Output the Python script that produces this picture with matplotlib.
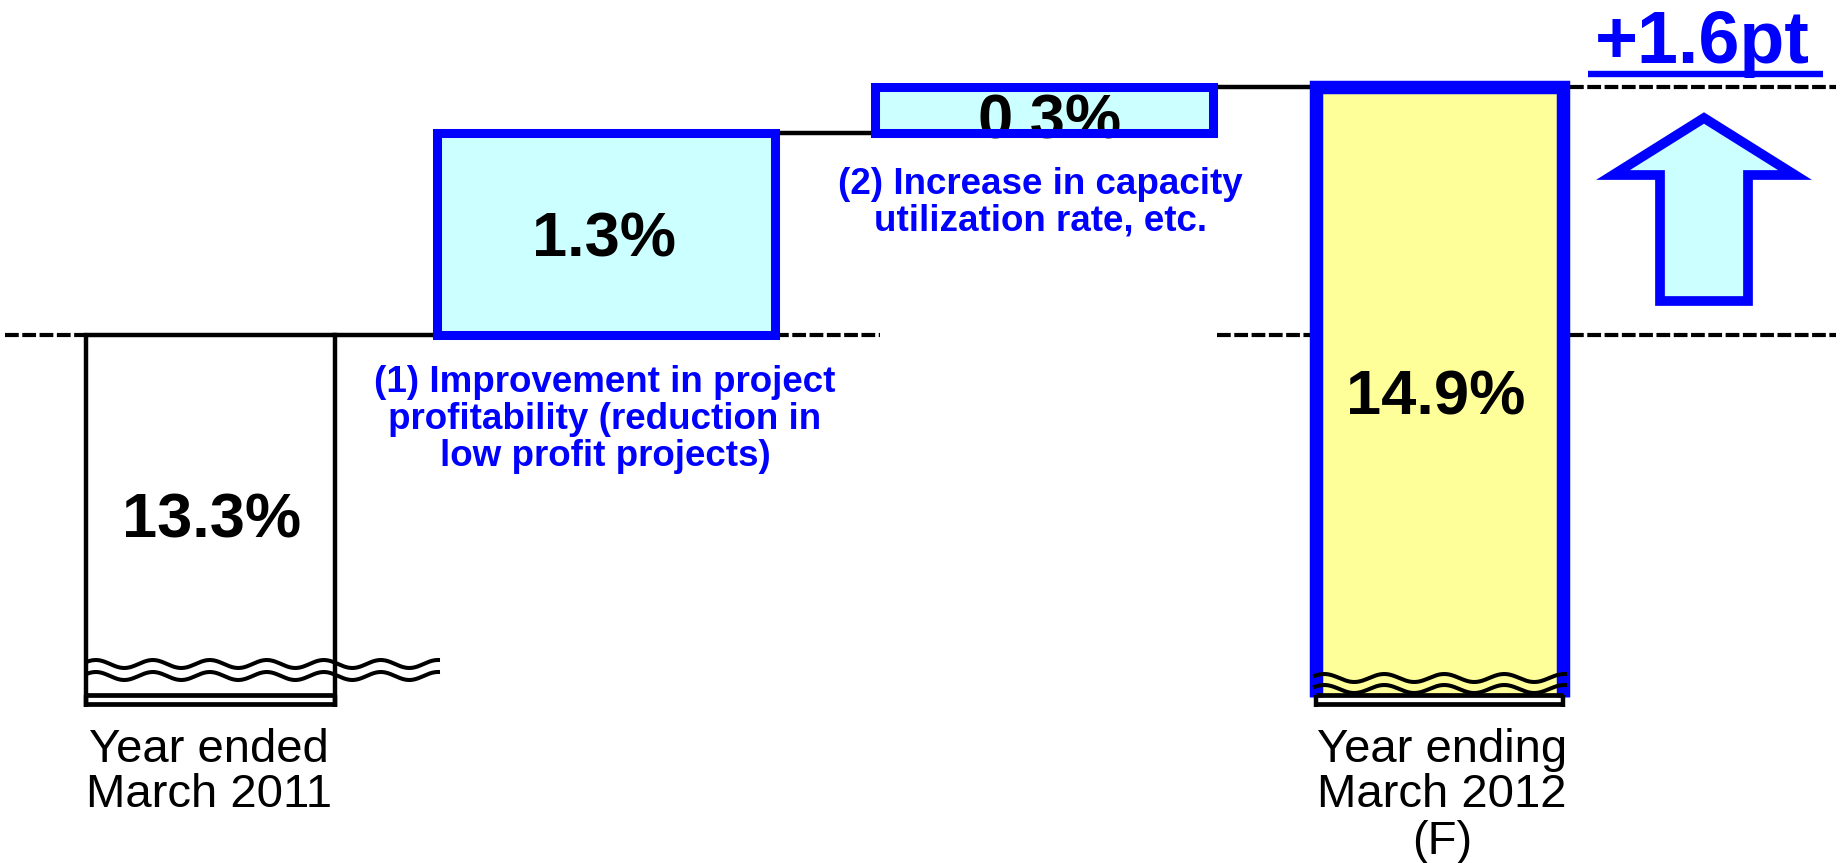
import matplotlib
matplotlib.use("Agg")
import matplotlib.pyplot as plt
import numpy as np
from matplotlib.patches import Rectangle, Polygon

# ---------------- data ----------------
categories = ["Year ended\nMarch 2011", "(1)", "(2)", "Year ending\nMarch 2012\n(F)"]
bar_kinds = ["total", "delta", "delta", "total"]
bar_values = [13.3, 1.3, 0.3, 14.9]
bar_labels = ["13.3%", "1.3%", "0.3%", "14.9%"]
change_notes = [
    "(1) Improvement in project\nprofitability (reduction in\nlow profit projects)",
    "(2) Increase in capacity\nutilization rate, etc.",
]
total_change_label = "+1.6pt"

# ---------------- style / layout ----------------
W, H = 1843, 863
BLUE = "#0000FF"
CYAN = "#CCFFFF"
YELLOW = "#FFFF99"
FONT = "Liberation Sans"
Y_TOP, Y_BOT = 15.461, 9.894      # value range mapped onto the figure height

def v(px):            # pixel row -> value units
    return Y_TOP - px * (Y_TOP - Y_BOT) / H

def pxh(dpx):         # pixel height -> value units
    return dpx * (Y_TOP - Y_BOT) / H

fig = plt.figure(figsize=(W / 100, H / 100), dpi=100)
ax = fig.add_axes([0, 0, 1, 1])
ax.set_xlim(0, W)
ax.set_ylim(Y_BOT, Y_TOP)
ax.axis("off")

bar_x = [(86, 335), (437, 775), (875, 1213), (1315.5, 1563)]
BREAK_TOP = v(697)
DASH = (0, (3.3, 0.85))
LW_LINE = 3.2

# compute waterfall extents
bottoms, tops = [], []
running = None
for kind, val in zip(bar_kinds, bar_values):
    if kind == "total":
        bottoms.append(BREAK_TOP)
        tops.append(val)
        running = val
    else:
        bottoms.append(running)
        tops.append(running + val)
        running += val

# ---------------- bars ----------------
edge_lw = [3.2, 6.5, 6.5, 9.7]
for i, ((x0, x1), b, t) in enumerate(zip(bar_x, bottoms, tops)):
    if i == 0:
        ax.add_patch(Rectangle((x0, b), x1 - x0, t - b, facecolor="white",
                               edgecolor="none", zorder=2))
        ax.plot([x0, x0, x1, x1], [v(707), t, t, v(707)], color="black",
                lw=edge_lw[i], solid_joinstyle="miter", solid_capstyle="butt", zorder=4)
    elif i == 3:
        ax.add_patch(Rectangle((x0, b), x1 - x0, t - b, facecolor=YELLOW,
                               edgecolor="none", zorder=2))
        ax.plot([x0, x0, x1, x1], [b, t, t, b], color=BLUE,
                lw=edge_lw[i], solid_joinstyle="miter", solid_capstyle="butt", zorder=4)
    else:
        ax.add_patch(Rectangle((x0, b), x1 - x0, t - b, facecolor=CYAN,
                               edgecolor=BLUE, lw=edge_lw[i], joinstyle="miter", zorder=4,
                               fill=False))
        ax.add_patch(Rectangle((x0, b), x1 - x0, t - b, facecolor=CYAN,
                               edgecolor="none", zorder=2))

# break symbols at the bottom of total bars
waves = {0: (87, 438, 664, 676, 57), 3: (1315, 1565, 678, 689, 60)}
for i in (0, 3):
    x0, x1 = bar_x[i]
    ax.add_patch(Rectangle((x0, v(707)), x1 - x0, v(695) - v(707), facecolor="white",
                           edgecolor="none", zorder=3))
    for yy in (695, 704.5):
        ax.plot([x0, x1], [v(yy), v(yy)], color="black", lw=3.4,
                solid_capstyle="butt", zorder=5)
    for xx in (x0, x1):
        ax.plot([xx, xx], [v(695), v(707)], color="black", lw=3.2,
                solid_capstyle="butt", zorder=5)
    wx0, wx1, y1, y2, per = waves[i]
    xs = np.linspace(wx0, wx1, 400)
    for yc in (y1, y2):
        ax.plot(xs, v(yc) + pxh(4.0) * np.sin(2 * np.pi * (xs - wx0) / per + 0.6),
                color="black", lw=2.9, zorder=6)

# connectors (solid) and reference lines (dashed)
ax.plot([bar_x[0][1], bar_x[1][0]], [tops[0], tops[0]], color="black", lw=LW_LINE, zorder=3)
ax.plot([bar_x[1][1], bar_x[2][0]], [tops[1], tops[1]], color="black", lw=LW_LINE, zorder=3)
ax.plot([bar_x[2][1], bar_x[3][0]], [tops[2], tops[2]], color="black", lw=LW_LINE, zorder=3)

base = bar_values[0]
final = bar_values[3]
for xa, xb, yv in [(5, bar_x[0][0], base), (bar_x[1][1], 880, base),
                   (1217, bar_x[3][0], base), (bar_x[3][1] + 7, 1836, base),
                   (bar_x[3][1] + 7, 1836, final)]:
    ax.plot([xa, xb], [yv, yv], color="black", lw=3.0, linestyle=DASH,
            dash_capstyle="butt", zorder=1)

# ---------------- value labels ----------------
label_pos = [(212, 538), (604, 257), (1050, 139), (1436, 415)]
for i, (lab, (lx, ly)) in enumerate(zip(bar_labels, label_pos)):
    t = ax.text(lx, v(ly), lab, ha="center", va="baseline", fontsize=45.5,
                fontweight="bold", family=FONT, color="black", zorder=3)
    if i == 2:
        x0, x1 = bar_x[2]
        clip = Rectangle((x0, bottoms[2]), x1 - x0, tops[2] - bottoms[2],
                         transform=ax.transData)
        t.set_clip_path(clip)

# change notes
note_pos = [(605, [392, 429, 466]), (1040, [194, 231])]
for note, (nx, ys) in zip(change_notes, note_pos):
    for line, yy in zip(note.split("\n"), ys):
        ax.text(nx, v(yy), line, ha="center", va="baseline", fontsize=26.5,
                fontweight="bold", family=FONT, color=BLUE)

# category labels
cat_pos = {0: (209, [762, 807]), 3: (1442, [762, 807, 854])}
for i, (cx, ys) in cat_pos.items():
    for line, yy in zip(categories[i].split("\n"), ys):
        ax.text(cx, v(yy), line, ha="center", va="baseline", fontsize=34,
                family=FONT, color="black")

# total change label with underline
ax.text(1702, v(63), total_change_label, ha="center", va="baseline", fontsize=53,
        fontweight="bold", family=FONT, color=BLUE)
ax.plot([1588, 1823], [v(74), v(74)], color=BLUE, lw=4.6, solid_capstyle="butt")

# up arrow
arrow_px = [(1660, 301), (1660, 175), (1613, 175), (1704, 118),
            (1795, 175), (1748, 175), (1748, 301)]
ax.add_patch(Polygon([(x, v(y)) for x, y in arrow_px], closed=True, facecolor=CYAN,
                     edgecolor=BLUE, lw=7.0, joinstyle="miter", zorder=4))

fig.savefig("out.png", dpi=100)
